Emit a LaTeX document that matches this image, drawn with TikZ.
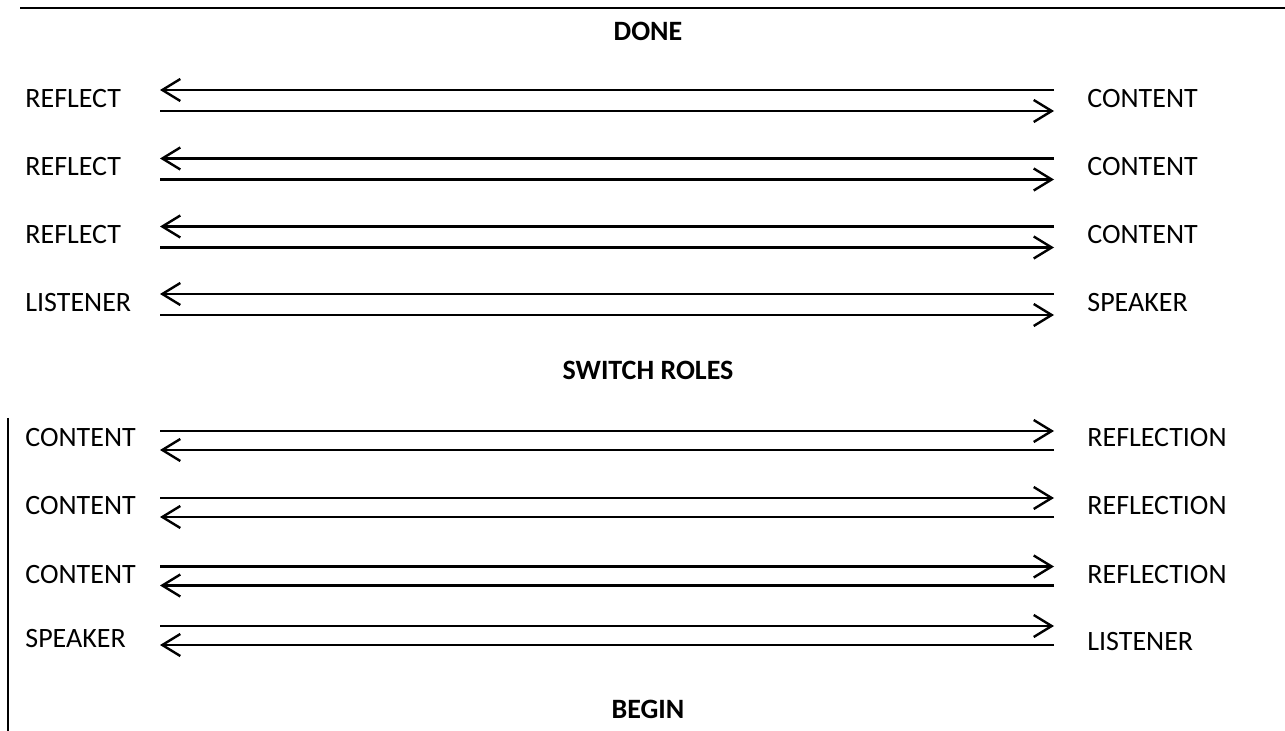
\documentclass[tikz,border=0pt]{standalone}
\usepackage{fontspec}
\setmainfont{Carlito}
\usetikzlibrary{arrows.meta}

\tikzset{
  lbl/.style={anchor=west,inner sep=0pt,font=\fontsize{14}{16}\selectfont},
  hdr/.style={inner sep=0pt,font=\fontsize{14}{16}\selectfont\bfseries},
  arr/.style={line width=1.2pt,-{Straight Barb[length=9pt,width=11pt,line width=1.2pt]}},
  rulex/.style={line width=1.2pt}
}

\begin{document}
\begin{tikzpicture}[x=0.5pt,y=-0.5pt]
\useasboundingbox (0,0) rectangle (1285,731);
% frame
\coordinate (topL) at (20,8);
\coordinate (topR) at (1285,8);
\coordinate (sideT) at (8,418);
\coordinate (sideB) at (8,731);
\draw[rulex] (topL) -- (topR);
\draw[rulex] (sideT) -- (sideB);
% headings
\node[hdr] (done) at (648,31) {DONE};
\node[hdr] (switch) at (648,370) {SWITCH ROLES};
\node[hdr] (begin) at (648,709.5) {BEGIN};
% after the switch
\foreach \n/\cy/\ly/\lt/\rt in {1/100.5/98.5/REFLECT/CONTENT,2/169/167/REFLECT/CONTENT,
  3/237/235/REFLECT/CONTENT,4/304.5/303/LISTENER/SPEAKER}{
  \node[lbl] (tl\n) at (25,\ly) {\lt};
  \node[lbl] (tr\n) at (1087,\ly) {\rt};
  \coordinate (tua\n) at (160,\cy-10.5);
  \coordinate (tub\n) at (1054,\cy-10.5);
  \coordinate (tla\n) at (160,\cy+10.5);
  \coordinate (tlb\n) at (1054,\cy+10.5);
  \draw[arr] (tub\n) -- (tua\n);
  \draw[arr] (tla\n) -- (tlb\n);
}
% before the switch
\foreach \n/\cy/\ly/\ry/\lt/\rt in {1/440.5/437.5/437.5/CONTENT/REFLECTION,2/507.5/505.5/505.5/CONTENT/REFLECTION,
  3/576/575/575/CONTENT/REFLECTION,4/635.5/639/642/SPEAKER/LISTENER}{
  \node[lbl] (bl\n) at (25,\ly) {\lt};
  \node[lbl] (br\n) at (1087,\ry) {\rt};
  \coordinate (bua\n) at (160,\cy-9.5);
  \coordinate (bub\n) at (1054,\cy-9.5);
  \coordinate (bla\n) at (160,\cy+9.5);
  \coordinate (blb\n) at (1054,\cy+9.5);
  \draw[arr] (bua\n) -- (bub\n);
  \draw[arr] (blb\n) -- (bla\n);
}
\end{tikzpicture}
\end{document}
